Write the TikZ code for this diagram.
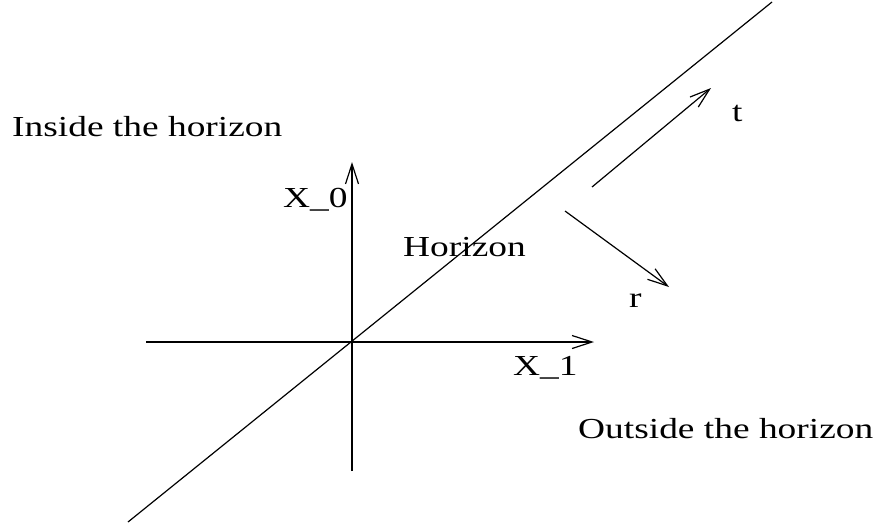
\documentclass[tikz,border=0pt]{standalone}
\usepackage{fontspec}
\setmainfont[FakeStretch=1.29]{Liberation Serif}
\usetikzlibrary{arrows.meta}
\tikzset{
  ln/.style={line width=1.2pt, black},
  arr/.style={ln, -{Straight Barb[length=20pt,width=13pt,line width=1.2pt]}},
  lbl/.style={anchor=base west, inner sep=0pt, font=\fontsize{29}{34}\selectfont}
}
\begin{document}
\begin{tikzpicture}[x=1pt,y=-1pt]
\useasboundingbox (0,0) rectangle (880,531);
% coordinates
\coordinate (hb) at (128,522);
\coordinate (ht) at (772,2);
\coordinate (vb) at (352,471);
\coordinate (vt) at (352,162);
\coordinate (xl) at (146,342);
\coordinate (xr) at (594,342);
\coordinate (ts) at (592,187);
\coordinate (te) at (711,88);
\coordinate (rs) at (565,211);
\coordinate (re) at (669,287);
% lines
\draw[ln] (hb) -- (ht);
\draw[arr] (vb) -- (vt);
\draw[arr] (xl) -- (xr);
\draw[arr] (ts) -- (te);
\draw[arr] (rs) -- (re);
% labels
\node[lbl] (inside) at (12,136) {Inside the horizon};
\node[lbl] (outside) at (578,438) {Outside the horizon};
\node[lbl] (x0) at (283,207) {X\_0};
\node[lbl] (hor) at (403,256) {Horizon};
\node[lbl] (x1) at (513,375) {X\_1};
\node[lbl] (r) at (629,307) {r};
\node[lbl] (t) at (732,121) {t};
\end{tikzpicture}
\end{document}
